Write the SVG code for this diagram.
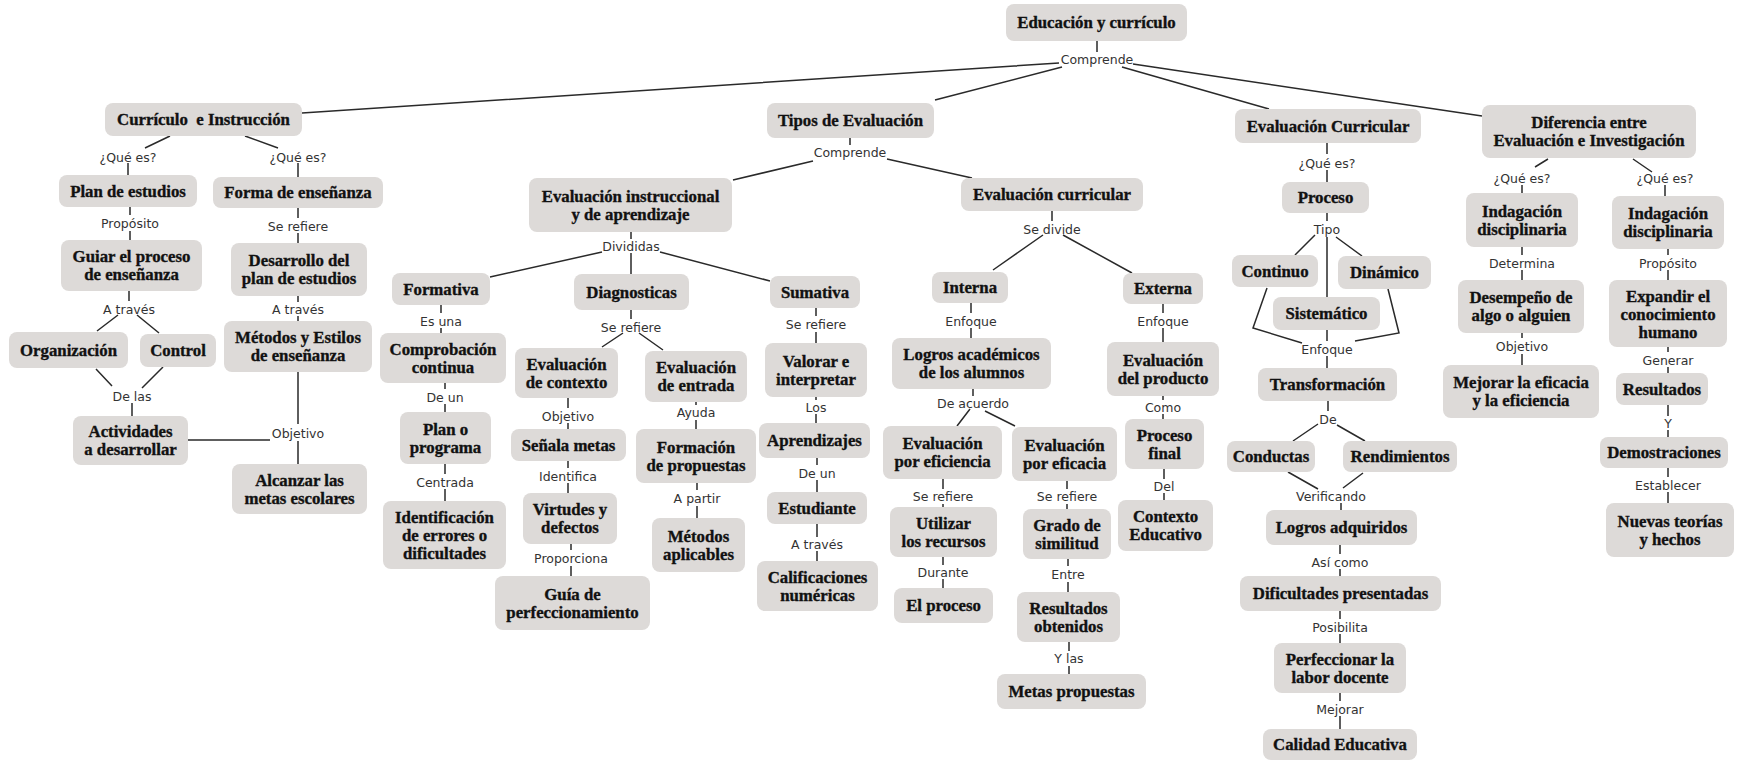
<svg xmlns="http://www.w3.org/2000/svg" width="1741" height="761" viewBox="0 0 1741 761">
<style>
.n rect{fill:#dddad8;rx:8px;ry:8px}
.n text{font-family:"Liberation Serif",serif;font-weight:bold;font-size:16.8px;fill:#111;stroke:#111;stroke-width:0.35px;text-anchor:middle}
.l{font-family:"DejaVu Sans",sans-serif;font-size:12.5px;fill:#333;text-anchor:middle}
#connectors path{stroke:#2a2a2a;stroke-width:1.5;fill:none}
</style>
<rect width="1741" height="761" fill="#fff"/>
<g id="connectors">
<path d="M1097 41V52M1059 63L302 113M1062 67L935 100M1122 67L1269 109M1133 64L1482 116"/>
<text class="l" x="1097" y="63.5">Comprende</text>
<path d="M170 136L145 148M128 163V175M245 136L278 148M298 163V177"/>
<text class="l" x="128" y="161.5">¿Qué es?</text>
<text class="l" x="298" y="161.5">¿Qué es?</text>
<path d="M130 207V215M130 231V240M298 208V218M298 233V243"/>
<text class="l" x="130" y="227.5">Propósito</text>
<text class="l" x="298" y="230.5">Se refiere</text>
<path d="M129 291V301M118 315L97 331M137 315L159 333M298 296V302M298 316V321"/>
<text class="l" x="129" y="313.5">A través</text>
<text class="l" x="298" y="313.5">A través</text>
<path d="M96 369L112 386M163 367L142 388M132 403V416"/>
<text class="l" x="132" y="400.5">De las</text>
<path d="M188 440H270M298 372V424M298 441V464"/>
<text class="l" x="298" y="437.5">Objetivo</text>
<path d="M850 138V145M813 161L733 180M887 159L972 178"/>
<text class="l" x="850" y="156.5">Comprende</text>
<path d="M631 232V239M602 252L490 277M631 253V274M660 252L770 281"/>
<text class="l" x="631" y="250.5">Divididas</text>
<path d="M441 305V313M441 328V333M445 383V389M445 404V412M445 464V474M445 489V501"/>
<text class="l" x="441" y="325.5">Es una</text>
<text class="l" x="445" y="401.5">De un</text>
<text class="l" x="445" y="486.5">Centrada</text>
<path d="M631 310V319M623 333L602 347M639 333L663 350"/>
<text class="l" x="631" y="331.5">Se refiere</text>
<path d="M568 398V408M568 423V429M568 461V468M568 483V493M571 544V550M571 566V576"/>
<text class="l" x="568" y="420.5">Objetivo</text>
<text class="l" x="568" y="480.5">Identifica</text>
<text class="l" x="571" y="562.5">Proporciona</text>
<path d="M696 402V405M696 420V429M697 483V490M697 506V518"/>
<text class="l" x="696" y="416.5">Ayuda</text>
<text class="l" x="697" y="502.5">A partir</text>
<path d="M816 308V316M816 332V343M816 397V400M816 414V423M817 458V465M817 480V492M817 524V537M817 551V561"/>
<text class="l" x="816" y="328.5">Se refiere</text>
<text class="l" x="816" y="411.5">Los</text>
<text class="l" x="817" y="477.5">De un</text>
<text class="l" x="817" y="548.5">A través</text>
<path d="M1052 211V221M1043 235L993 270M1063 235L1132 273"/>
<text class="l" x="1052" y="233.5">Se divide</text>
<path d="M971 303V313M971 328V338M973 389V396M970 409L957 426M985 411L1015 426"/>
<text class="l" x="971" y="325.5">Enfoque</text>
<text class="l" x="973" y="407.5">De acuerdo</text>
<path d="M943 479V489M943 504V507M1067 481V489M1067 504V509M943 557V565M943 579V588M1068 559V566M1068 582V592M1069 642V651M1069 666V674"/>
<text class="l" x="943" y="500.5">Se refiere</text>
<text class="l" x="1067" y="500.5">Se refiere</text>
<text class="l" x="943" y="576.5">Durante</text>
<text class="l" x="1068" y="578.5">Entre</text>
<text class="l" x="1069" y="662.5">Y las</text>
<path d="M1163 304V313M1163 328V342M1163 396V400M1163 414V419M1164 469V479M1164 493V500"/>
<text class="l" x="1163" y="325.5">Enfoque</text>
<text class="l" x="1163" y="411.5">Como</text>
<text class="l" x="1164" y="490.5">Del</text>
<path d="M1327 143V154M1327 170V182M1327 213V221M1315 235L1295 255M1327 237V297M1336 237L1362 256"/>
<text class="l" x="1327" y="167.5">¿Qué es?</text>
<text class="l" x="1327" y="233.5">Tipo</text>
<path d="M1267 288L1253 328L1302 343M1388 289L1399 333L1355 341M1327 330V341M1327 356V368"/>
<text class="l" x="1327" y="353.5">Enfoque</text>
<path d="M1328 401V411M1318 424L1293 441M1337 425L1365 441"/>
<text class="l" x="1328" y="423.5">De</text>
<path d="M1288 472L1318 489M1363 473L1343 488M1341 503V510"/>
<text class="l" x="1331" y="500.5">Verificando</text>
<path d="M1340 545V554M1340 569V576M1340 611V619M1340 634V643M1340 693V701M1340 716V729"/>
<text class="l" x="1340" y="566.5">Así como</text>
<text class="l" x="1340" y="631.5">Posibilita</text>
<text class="l" x="1340" y="713.5">Mejorar</text>
<path d="M1548 159L1535 167M1522 185V193M1633 159L1652 172M1665 185V196"/>
<text class="l" x="1522" y="182.5">¿Qué es?</text>
<text class="l" x="1665" y="182.5">¿Qué es?</text>
<path d="M1522 247V255M1522 270V280M1522 333V338M1522 354V365"/>
<text class="l" x="1522" y="267.5">Determina</text>
<text class="l" x="1522" y="350.5">Objetivo</text>
<path d="M1668 249V255M1668 270V280M1668 347V352M1668 367V373M1668 405V416M1668 430V437M1668 468V477M1668 492V503"/>
<text class="l" x="1668" y="267.5">Propósito</text>
<text class="l" x="1668" y="364.5">Generar</text>
<text class="l" x="1668" y="427.5">Y</text>
<text class="l" x="1668" y="489.5">Establecer</text>
</g>
<g id="n-root" class="n"><rect x="1006" y="4" width="181" height="37"/><text x="1096.5" y="28">Educación y currículo</text></g>
<g id="n-curr" class="n"><rect x="105" y="103" width="197" height="33"/><text x="203.5" y="125">Currículo&#160; e Instrucción</text></g>
<g id="n-plan" class="n"><rect x="59" y="175" width="138" height="32"/><text x="128" y="196.5">Plan de estudios</text></g>
<g id="n-forma" class="n"><rect x="213" y="177" width="170" height="31"/><text x="298" y="198">Forma de enseñanza</text></g>
<g id="n-guiar" class="n"><rect x="61" y="240" width="141" height="51"/><text x="131.5" y="262">Guiar el proceso</text><text x="131.5" y="280">de enseñanza</text></g>
<g id="n-desarrollo" class="n"><rect x="231" y="243" width="136" height="53"/><text x="299" y="266">Desarrollo del</text><text x="299" y="284">plan de estudios</text></g>
<g id="n-organizacion" class="n"><rect x="9" y="332" width="119" height="36"/><text x="68.5" y="355.5">Organización</text></g>
<g id="n-control" class="n"><rect x="140" y="334" width="76" height="33"/><text x="178" y="356">Control</text></g>
<g id="n-metodos" class="n"><rect x="224" y="321" width="148" height="51"/><text x="298" y="343">Métodos y Estilos</text><text x="298" y="361">de enseñanza</text></g>
<g id="n-actividades" class="n"><rect x="73" y="416" width="115" height="49"/><text x="130.5" y="437">Actividades</text><text x="130.5" y="455">a desarrollar</text></g>
<g id="n-alcanzar" class="n"><rect x="232" y="464" width="135" height="50"/><text x="299.5" y="485.5">Alcanzar las</text><text x="299.5" y="503.5">metas escolares</text></g>
<g id="n-tipos" class="n"><rect x="767" y="103" width="167" height="35"/><text x="850.5" y="126">Tipos de Evaluación</text></g>
<g id="n-evinstr" class="n"><rect x="529" y="178" width="203" height="54"/><text x="630.5" y="201.5">Evaluación instruccional</text><text x="630.5" y="219.5">y de aprendizaje</text></g>
<g id="n-evcurr" class="n"><rect x="961" y="178" width="182" height="33"/><text x="1052" y="200">Evaluación curricular</text></g>
<g id="n-formativa" class="n"><rect x="392" y="273" width="98" height="32"/><text x="441" y="294.5">Formativa</text></g>
<g id="n-diagnosticas" class="n"><rect x="574" y="274" width="115" height="36"/><text x="631.5" y="297.5">Diagnosticas</text></g>
<g id="n-sumativa" class="n"><rect x="770" y="276" width="90" height="32"/><text x="815" y="297.5">Sumativa</text></g>
<g id="n-comprobacion" class="n"><rect x="380" y="333" width="126" height="50"/><text x="443" y="354.5">Comprobación</text><text x="443" y="372.5">continua</text></g>
<g id="n-planprog" class="n"><rect x="400" y="412" width="91" height="52"/><text x="445.5" y="434.5">Plan o</text><text x="445.5" y="452.5">programa</text></g>
<g id="n-identificacion" class="n"><rect x="383" y="501" width="123" height="68"/><text x="444.5" y="522.5">Identificación</text><text x="444.5" y="540.5">de errores o</text><text x="444.5" y="558.5">dificultades</text></g>
<g id="n-contexto" class="n"><rect x="515" y="348" width="103" height="50"/><text x="566.5" y="369.5">Evaluación</text><text x="566.5" y="387.5">de contexto</text></g>
<g id="n-entrada" class="n"><rect x="645" y="351" width="102" height="51"/><text x="696" y="373">Evaluación</text><text x="696" y="391">de entrada</text></g>
<g id="n-senala" class="n"><rect x="511" y="429" width="115" height="32"/><text x="568.5" y="450.5">Señala metas</text></g>
<g id="n-virtudes" class="n"><rect x="523" y="493" width="94" height="51"/><text x="570" y="515">Virtudes y</text><text x="570" y="533">defectos</text></g>
<g id="n-guia" class="n"><rect x="495" y="576" width="155" height="54"/><text x="572.5" y="599.5">Guía de</text><text x="572.5" y="617.5">perfeccionamiento</text></g>
<g id="n-formacion" class="n"><rect x="636" y="429" width="120" height="54"/><text x="696" y="452.5">Formación</text><text x="696" y="470.5">de propuestas</text></g>
<g id="n-metodosapl" class="n"><rect x="652" y="518" width="93" height="54"/><text x="698.5" y="541.5">Métodos</text><text x="698.5" y="559.5">aplicables</text></g>
<g id="n-valorar" class="n"><rect x="765" y="343" width="102" height="54"/><text x="816" y="366.5">Valorar e</text><text x="816" y="384.5">interpretar</text></g>
<g id="n-aprendizajes" class="n"><rect x="759" y="423" width="111" height="35"/><text x="814.5" y="446">Aprendizajes</text></g>
<g id="n-estudiante" class="n"><rect x="767" y="492" width="100" height="32"/><text x="817" y="513.5">Estudiante</text></g>
<g id="n-calificaciones" class="n"><rect x="757" y="561" width="121" height="50"/><text x="817.5" y="582.5">Calificaciones</text><text x="817.5" y="600.5">numéricas</text></g>
<g id="n-interna" class="n"><rect x="932" y="272" width="76" height="31"/><text x="970" y="293">Interna</text></g>
<g id="n-externa" class="n"><rect x="1123" y="273" width="80" height="31"/><text x="1163" y="294">Externa</text></g>
<g id="n-logros" class="n"><rect x="892" y="338" width="159" height="51"/><text x="971.5" y="360">Logros académicos</text><text x="971.5" y="378">de los alumnos</text></g>
<g id="n-evproducto" class="n"><rect x="1107" y="342" width="112" height="54"/><text x="1163" y="365.5">Evaluación</text><text x="1163" y="383.5">del producto</text></g>
<g id="n-eficiencia" class="n"><rect x="883" y="426" width="119" height="53"/><text x="942.5" y="449">Evaluación</text><text x="942.5" y="467">por eficiencia</text></g>
<g id="n-eficacia" class="n"><rect x="1012" y="427" width="105" height="54"/><text x="1064.5" y="450.5">Evaluación</text><text x="1064.5" y="468.5">por eficacia</text></g>
<g id="n-procesofinal" class="n"><rect x="1125" y="419" width="79" height="50"/><text x="1164.5" y="440.5">Proceso</text><text x="1164.5" y="458.5">final</text></g>
<g id="n-utilizar" class="n"><rect x="890" y="507" width="107" height="50"/><text x="943.5" y="528.5">Utilizar</text><text x="943.5" y="546.5">los recursos</text></g>
<g id="n-grado" class="n"><rect x="1023" y="509" width="88" height="50"/><text x="1067" y="530.5">Grado de</text><text x="1067" y="548.5">similitud</text></g>
<g id="n-contextoedu" class="n"><rect x="1118" y="500" width="95" height="51"/><text x="1165.5" y="522">Contexto</text><text x="1165.5" y="540">Educativo</text></g>
<g id="n-elproceso" class="n"><rect x="894" y="588" width="99" height="35"/><text x="943.5" y="611">El proceso</text></g>
<g id="n-resultadosobt" class="n"><rect x="1017" y="592" width="103" height="50"/><text x="1068.5" y="613.5">Resultados</text><text x="1068.5" y="631.5">obtenidos</text></g>
<g id="n-metasprop" class="n"><rect x="997" y="674" width="149" height="35"/><text x="1071.5" y="697">Metas propuestas</text></g>
<g id="n-evalcurricular" class="n"><rect x="1235" y="109" width="186" height="34"/><text x="1328" y="131.5">Evaluación Curricular</text></g>
<g id="n-proceso" class="n"><rect x="1282" y="182" width="87" height="31"/><text x="1325.5" y="203">Proceso</text></g>
<g id="n-continuo" class="n"><rect x="1232" y="255" width="86" height="32"/><text x="1275" y="276.5">Continuo</text></g>
<g id="n-dinamico" class="n"><rect x="1338" y="256" width="93" height="33"/><text x="1384.5" y="278">Dinámico</text></g>
<g id="n-sistematico" class="n"><rect x="1273" y="297" width="107" height="33"/><text x="1326.5" y="319">Sistemático</text></g>
<g id="n-transformacion" class="n"><rect x="1258" y="368" width="139" height="33"/><text x="1327.5" y="390">Transformación</text></g>
<g id="n-conductas" class="n"><rect x="1227" y="441" width="88" height="31"/><text x="1271" y="462">Conductas</text></g>
<g id="n-rendimientos" class="n"><rect x="1343" y="441" width="114" height="31"/><text x="1400" y="462">Rendimientos</text></g>
<g id="n-logrosadq" class="n"><rect x="1266" y="510" width="151" height="35"/><text x="1341.5" y="533">Logros adquiridos</text></g>
<g id="n-dificultades" class="n"><rect x="1240" y="576" width="201" height="35"/><text x="1340.5" y="599">Dificultades presentadas</text></g>
<g id="n-perfeccionar" class="n"><rect x="1274" y="643" width="132" height="50"/><text x="1340" y="664.5">Perfeccionar la</text><text x="1340" y="682.5">labor docente</text></g>
<g id="n-calidad" class="n"><rect x="1263" y="729" width="154" height="31"/><text x="1340" y="750">Calidad Educativa</text></g>
<g id="n-diferencia" class="n"><rect x="1482" y="105" width="214" height="53"/><text x="1589" y="128">Diferencia entre</text><text x="1589" y="146">Evaluación e Investigación</text></g>
<g id="n-indag1" class="n"><rect x="1466" y="193" width="112" height="54"/><text x="1522" y="216.5">Indagación</text><text x="1522" y="234.5">disciplinaria</text></g>
<g id="n-indag2" class="n"><rect x="1612" y="196" width="112" height="53"/><text x="1668" y="219">Indagación</text><text x="1668" y="237">disciplinaria</text></g>
<g id="n-desempeno" class="n"><rect x="1458" y="280" width="126" height="53"/><text x="1521" y="303">Desempeño de</text><text x="1521" y="321">algo o alguien</text></g>
<g id="n-expandir" class="n"><rect x="1609" y="280" width="118" height="67"/><text x="1668" y="301.5">Expandir el</text><text x="1668" y="319.5">conocimiento</text><text x="1668" y="337.5">humano</text></g>
<g id="n-mejorar" class="n"><rect x="1443" y="365" width="156" height="53"/><text x="1521" y="388">Mejorar la eficacia</text><text x="1521" y="406">y la eficiencia</text></g>
<g id="n-resultados" class="n"><rect x="1616" y="373" width="92" height="32"/><text x="1662" y="394.5">Resultados</text></g>
<g id="n-demostraciones" class="n"><rect x="1600" y="437" width="128" height="31"/><text x="1664" y="458">Demostraciones</text></g>
<g id="n-nuevas" class="n"><rect x="1606" y="503" width="128" height="54"/><text x="1670" y="526.5">Nuevas teorías</text><text x="1670" y="544.5">y hechos</text></g>
</svg>
